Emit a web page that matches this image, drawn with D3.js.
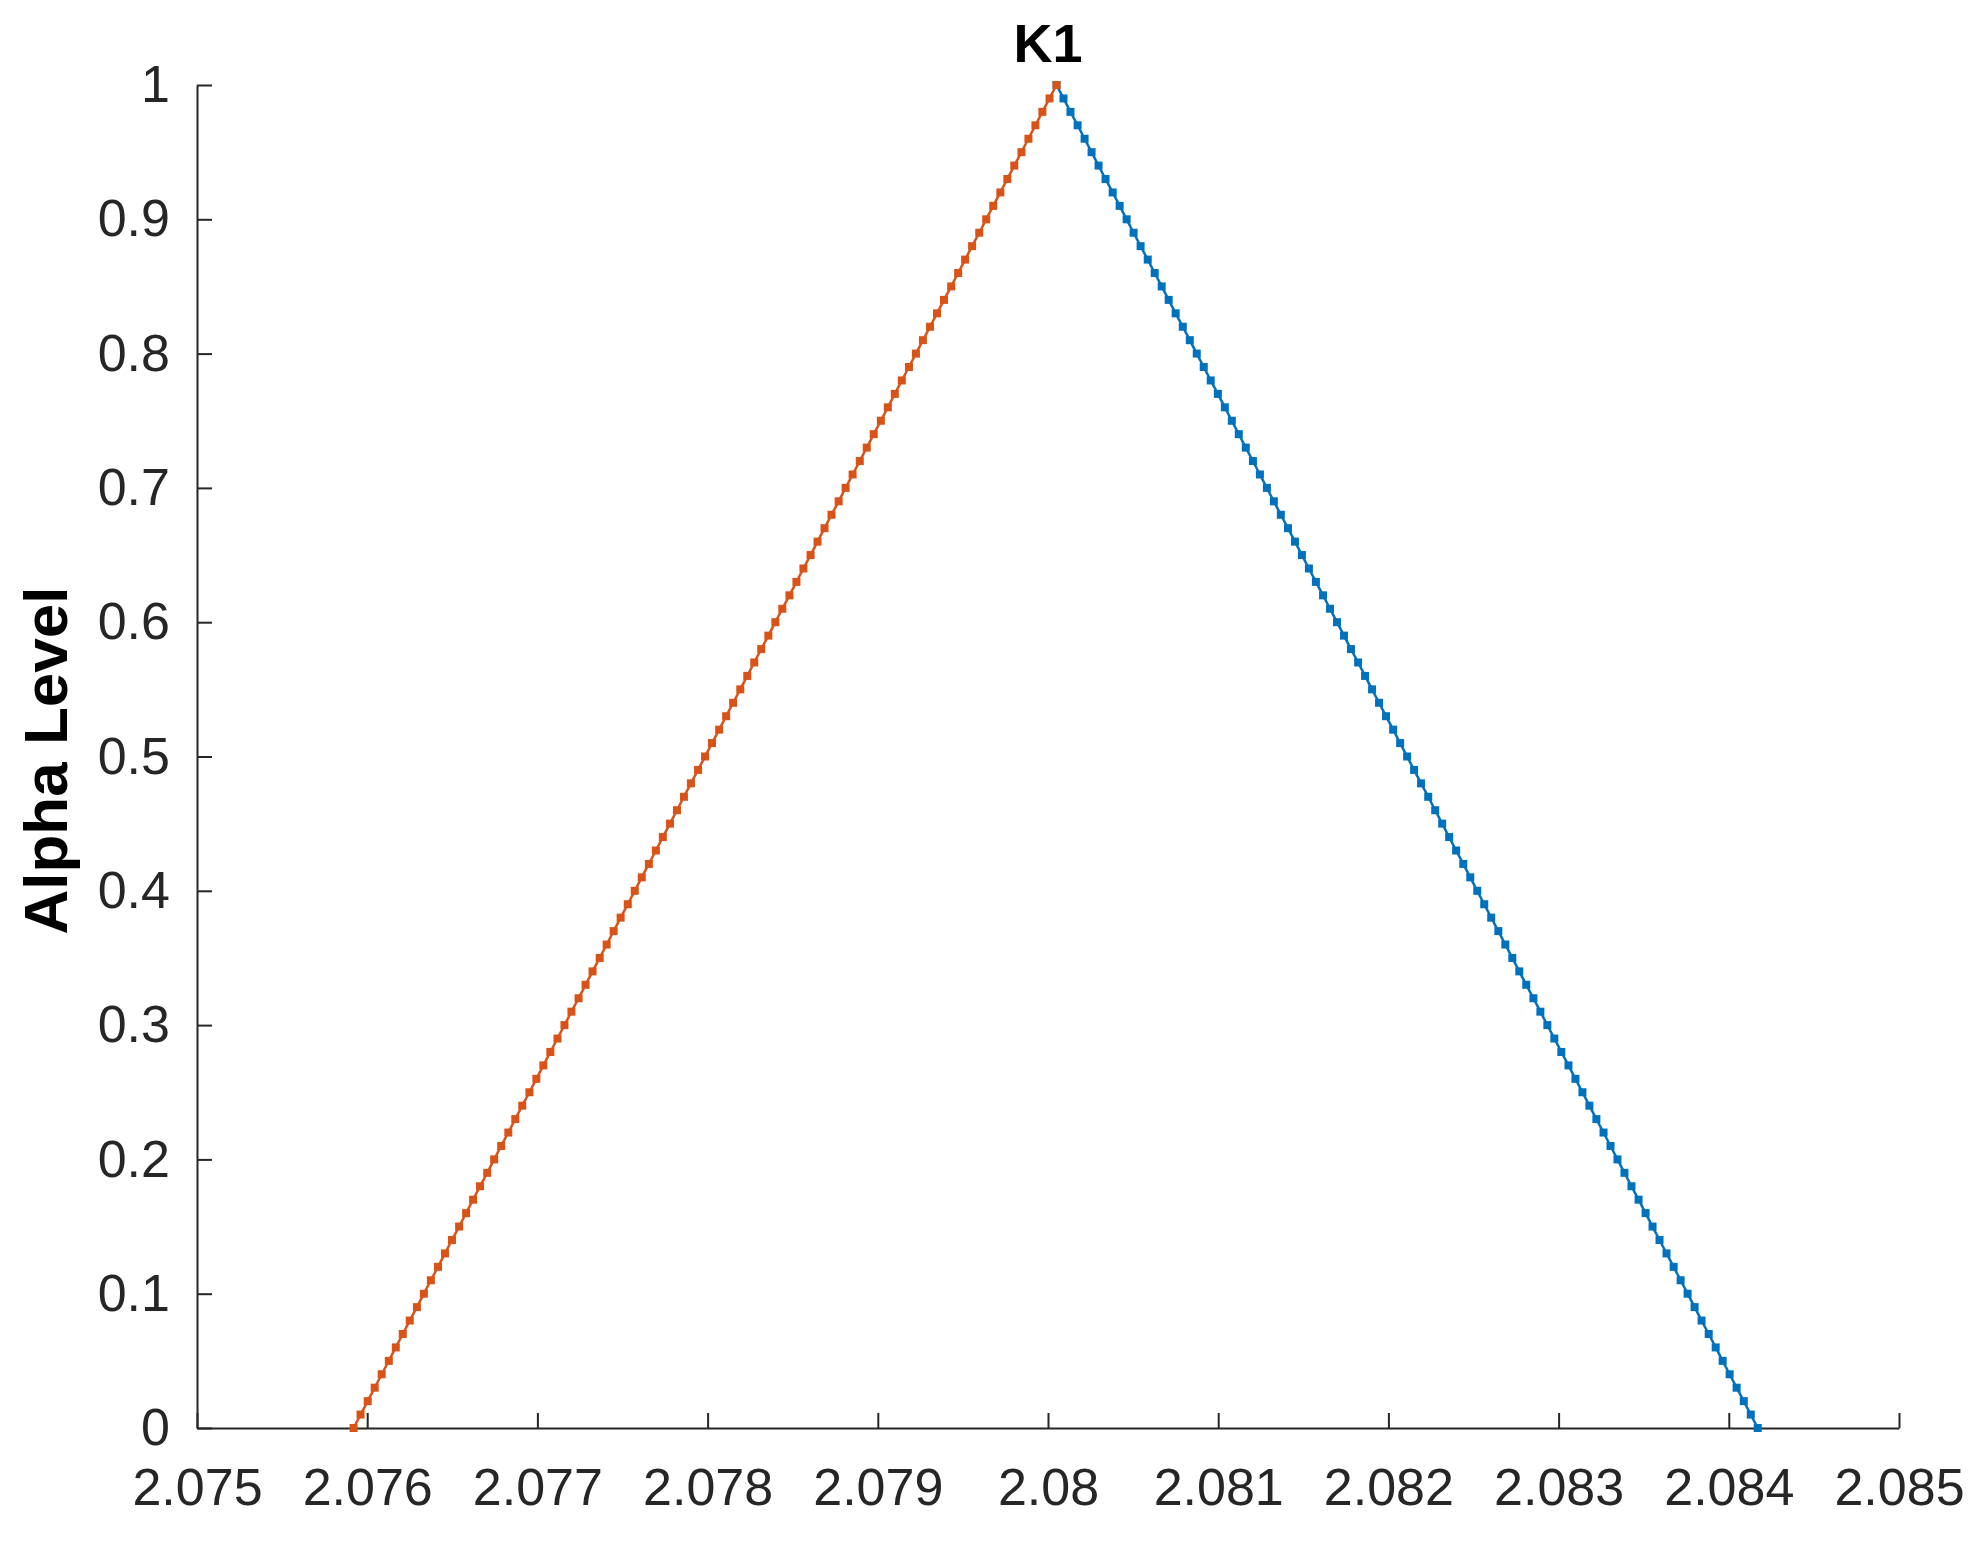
<!DOCTYPE html>
<html>
<head>
<meta charset="utf-8">
<script src="https://cdn.jsdelivr.net/npm/d3@7"></script>
<style>
  body { margin: 0; background: #fff; }
  svg text { font-family: "Liberation Sans", Arial, sans-serif; }
</style>
</head>
<body>
<div id="chart"></div>
<script>
// alpha cuts of the fuzzy number K1 (step 0.01)
var alphaLevels = [0, 0.01, 0.02, 0.03, 0.04, 0.05, 0.06, 0.07, 0.08, 0.09,
  0.1, 0.11, 0.12, 0.13, 0.14, 0.15, 0.16, 0.17, 0.18, 0.19,
  0.2, 0.21, 0.22, 0.23, 0.24, 0.25, 0.26, 0.27, 0.28, 0.29,
  0.3, 0.31, 0.32, 0.33, 0.34, 0.35, 0.36, 0.37, 0.38, 0.39,
  0.4, 0.41, 0.42, 0.43, 0.44, 0.45, 0.46, 0.47, 0.48, 0.49,
  0.5, 0.51, 0.52, 0.53, 0.54, 0.55, 0.56, 0.57, 0.58, 0.59,
  0.6, 0.61, 0.62, 0.63, 0.64, 0.65, 0.66, 0.67, 0.68, 0.69,
  0.7, 0.71, 0.72, 0.73, 0.74, 0.75, 0.76, 0.77, 0.78, 0.79,
  0.8, 0.81, 0.82, 0.83, 0.84, 0.85, 0.86, 0.87, 0.88, 0.89,
  0.9, 0.91, 0.92, 0.93, 0.94, 0.95, 0.96, 0.97, 0.98, 0.99, 1];

// lower bound of each cut (orange)
var lowerBound = [2.075920, 2.075961, 2.076003, 2.076044, 2.076085, 2.076127, 2.076168, 2.076209, 2.076250, 2.076292,
  2.076333, 2.076374, 2.076416, 2.076457, 2.076498, 2.076540, 2.076581, 2.076622, 2.076663, 2.076705,
  2.076746, 2.076787, 2.076829, 2.076870, 2.076911, 2.076953, 2.076994, 2.077035, 2.077076, 2.077118,
  2.077159, 2.077200, 2.077242, 2.077283, 2.077324, 2.077366, 2.077407, 2.077448, 2.077489, 2.077531,
  2.077572, 2.077613, 2.077655, 2.077696, 2.077737, 2.077779, 2.077820, 2.077861, 2.077902, 2.077944,
  2.077985, 2.078026, 2.078068, 2.078109, 2.078150, 2.078192, 2.078233, 2.078274, 2.078315, 2.078357,
  2.078398, 2.078439, 2.078481, 2.078522, 2.078563, 2.078605, 2.078646, 2.078687, 2.078728, 2.078770,
  2.078811, 2.078852, 2.078894, 2.078935, 2.078976, 2.079018, 2.079059, 2.079100, 2.079141, 2.079183,
  2.079224, 2.079265, 2.079307, 2.079348, 2.079389, 2.079431, 2.079472, 2.079513, 2.079554, 2.079596,
  2.079637, 2.079678, 2.079720, 2.079761, 2.079802, 2.079844, 2.079885, 2.079926, 2.079967, 2.080009, 2.080050];

// upper bound of each cut (blue)
var upperBound = [2.084170, 2.084129, 2.084088, 2.084046, 2.084005, 2.083964, 2.083923, 2.083882, 2.083840, 2.083799,
  2.083758, 2.083717, 2.083676, 2.083634, 2.083593, 2.083552, 2.083511, 2.083470, 2.083428, 2.083387,
  2.083346, 2.083305, 2.083264, 2.083222, 2.083181, 2.083140, 2.083099, 2.083058, 2.083016, 2.082975,
  2.082934, 2.082893, 2.082852, 2.082810, 2.082769, 2.082728, 2.082687, 2.082646, 2.082604, 2.082563,
  2.082522, 2.082481, 2.082440, 2.082398, 2.082357, 2.082316, 2.082275, 2.082234, 2.082192, 2.082151,
  2.082110, 2.082069, 2.082028, 2.081986, 2.081945, 2.081904, 2.081863, 2.081822, 2.081780, 2.081739,
  2.081698, 2.081657, 2.081616, 2.081574, 2.081533, 2.081492, 2.081451, 2.081410, 2.081368, 2.081327,
  2.081286, 2.081245, 2.081204, 2.081162, 2.081121, 2.081080, 2.081039, 2.080998, 2.080956, 2.080915,
  2.080874, 2.080833, 2.080792, 2.080750, 2.080709, 2.080668, 2.080627, 2.080586, 2.080544, 2.080503,
  2.080462, 2.080421, 2.080380, 2.080338, 2.080297, 2.080256, 2.080215, 2.080174, 2.080132, 2.080091, 2.080050];

var xTicks = [2.075, 2.076, 2.077, 2.078, 2.079, 2.08, 2.081, 2.082, 2.083, 2.084, 2.085];
var yTicks = [0, 0.1, 0.2, 0.3, 0.4, 0.5, 0.6, 0.7, 0.8, 0.9, 1];

var width = 1986,
  height = 1541,
  margin = {left: 197, right: 87, top: 85, bottom: 113},
  innerW = width - margin.left - margin.right,
  innerH = height - margin.top - margin.bottom,
  axisColor = "#262626";

var svg = d3.select("#chart")
  .append("svg")
  .attr("width", width)
  .attr("height", height);

var chart = svg.append("g")
  .attr("transform", "translate(" + margin.left + "," + margin.top + ")");

var xScale = d3.scaleLinear()
  .domain([xTicks[0], xTicks[xTicks.length - 1]])
  .range([0, innerW]);
var yScale = d3.scaleLinear()
  .domain([yTicks[0], yTicks[yTicks.length - 1]])
  .range([innerH, 0]);

// axes, ticks pointing inward like matlab
var xAxis = chart.append("g")
  .attr("transform", "translate(0," + innerH + ")")
  .call(d3.axisBottom(xScale)
    .tickValues(xTicks)
    .tickFormat(d3.format("~g"))
    .tickSizeInner(-15)
    .tickSizeOuter(0)
    .tickPadding(40));
var yAxis = chart.append("g")
  .call(d3.axisLeft(yScale)
    .tickValues(yTicks)
    .tickFormat(d3.format("~g"))
    .tickSizeInner(-15)
    .tickSizeOuter(0)
    .tickPadding(27));

[xAxis, yAxis].forEach(function (ax) {
  ax.select(".domain").attr("stroke", axisColor).attr("stroke-width", 2);
  ax.selectAll(".tick line").attr("stroke", axisColor).attr("stroke-width", 2);
  ax.selectAll(".tick text")
    .attr("fill", axisColor)
    .style("font-size", "52px");
});

// series: blue first so the orange peak sits on top
var series = [
  {name: "upper", xs: upperBound, color: "#0072BD"},
  {name: "lower", xs: lowerBound, color: "#D95319"}
];

var line = d3.line()
  .x(function (d) { return xScale(d.x); })
  .y(function (d) { return yScale(d.a); });

series.forEach(function (s) {
  var pts = alphaLevels.map(function (a, i) { return {a: a, x: s.xs[i]}; });
  var g = chart.append("g").attr("class", "series " + s.name);
  g.append("path")
    .datum(pts)
    .attr("fill", "none")
    .attr("stroke", s.color)
    .attr("stroke-width", 2.5)
    .attr("d", line);
  g.selectAll("rect")
    .data(pts)
    .enter()
    .append("rect")
    .attr("x", function (d) { return xScale(d.x) - 4; })
    .attr("y", function (d) { return yScale(d.a) - 4; })
    .attr("width", 8)
    .attr("height", 8)
    .attr("fill", s.color);
});

// title and y label
svg.append("text")
  .attr("x", margin.left + innerW / 2)
  .attr("y", 62)
  .attr("text-anchor", "middle")
  .style("font-size", "54px")
  .style("font-weight", "bold")
  .attr("fill", "#000")
  .text("K1");

svg.append("text")
  .attr("transform", "translate(67," + (margin.top + innerH / 2 + 4) + ") rotate(-90)")
  .attr("text-anchor", "middle")
  .style("font-size", "62px")
  .style("font-weight", "bold")
  .attr("fill", "#000")
  .text("Alpha Level");
</script>
</body>
</html>
